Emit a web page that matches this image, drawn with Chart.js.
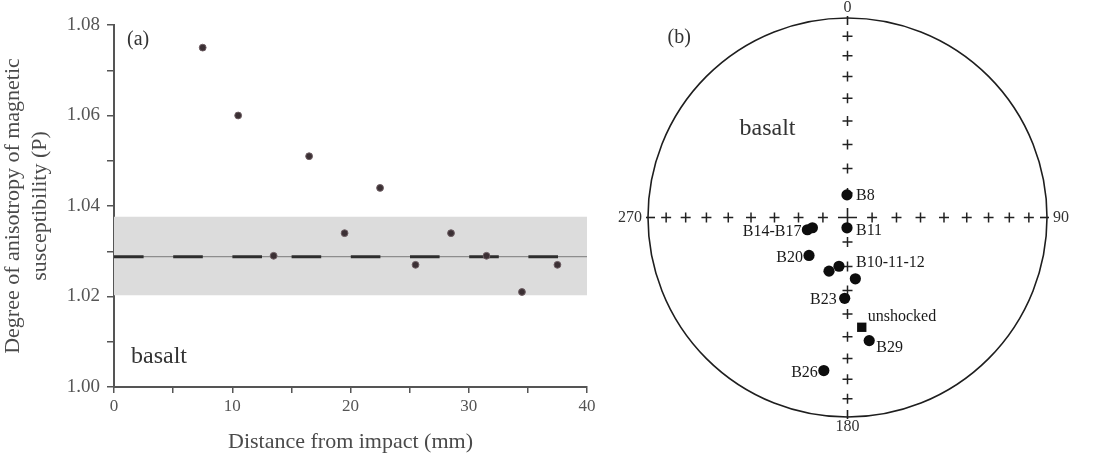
<!DOCTYPE html>
<html>
<head>
<meta charset="utf-8">
<script src="https://cdn.jsdelivr.net/npm/chart.js@4/dist/chart.umd.min.js"></script>
<style>
  html, body { margin: 0; padding: 0; background: #fff; }
  #wrap { position: relative; width: 1095px; height: 454px; overflow: hidden; }
  #left { position: absolute; left: 0; top: 0; }
  #right { position: absolute; left: 605px; top: 0; }
</style>
</head>
<body>
<div id="wrap">
  <canvas id="left" width="605" height="454"></canvas>
  <canvas id="right" width="490" height="454"></canvas>
</div>
<script>
// ---- (a) degree of anisotropy vs distance from impact ----
const distances = [7.5, 10.5, 13.5, 16.5, 19.5, 22.5, 25.5, 28.5, 31.5, 34.5, 37.5];
const pValues   = [1.075, 1.060, 1.029, 1.051, 1.034, 1.044, 1.027, 1.034, 1.029, 1.021, 1.027];
const unshockedMean = 1.0288;
const unshockedBand = [1.0203, 1.0376];   // low, high
const distRange = [0, 40];
const pRange = [1.00, 1.08];

// ---- (b) stereonet, lower hemisphere equal area (declination / inclination, deg) ----
const siteDec = [358.7, 253.0, 253.7, 182.8, 225.4, 199.0, 189.9, 172.7, 182.0, 170.0, 188.8];
const siteInc = [80.8, 72.9, 75.1, 85.8, 67.9, 66.8, 69.8, 64.7, 56.7, 37.4, 23.4];
const unshockedDec = [172.6];
const unshockedInc = [43.8];
const gridDecs = [0, 90, 180, 270];
const gridIncs = [10, 20, 30, 40, 50, 60, 70, 80];
const cardinalLabels = ['0', '90', '180', '270'];
// text + index of the point it sits next to (unshocked uses -1)
const siteLabels = ['B8', 'B14-B17', 'B11', 'B20', 'B10-11-12', 'B23', 'unshocked', 'B29', 'B26'];
const siteLabelAnchor = [0, 1, 3, 4, 6, 8, -1, 9, 10];

// label placement (pixels from anchor point)
const labelPlace = {
  'B8':        { align: 'left',  dx: 9,  dy: 1 },
  'B14-B17':   { align: 'right', dx: -6, dy: 2 },
  'B11':       { align: 'left',  dx: 9,  dy: 3 },
  'B20':       { align: 'right', dx: -6, dy: 2 },
  'B10-11-12': { align: 'left',  dx: 17, dy: -3 },
  'B23':       { align: 'right', dx: -8, dy: 2 },
  'unshocked': { align: 'left',  dx: 6,  dy: -10 },
  'B29':       { align: 'left',  dx: 7,  dy: 7 },
  'B26':       { align: 'right', dx: -6, dy: 2 },
};

const SERIF = '"Liberation Serif", "DejaVu Serif", serif';
const INK = '#4a4a4a';

function project(dec, inc) {
  const r = Math.SQRT2 * Math.sin((90 - inc) / 2 * Math.PI / 180);
  const d = dec * Math.PI / 180;
  return { x: r * Math.sin(d), y: r * Math.cos(d) };
}

// ---------- left chart ----------
const panelA = {
  id: 'panelA',
  afterDraw(chart) {
    const { ctx, chartArea } = chart;
    ctx.save();
    ctx.fillStyle = '#333';
    ctx.textBaseline = 'middle';
    ctx.font = '20px ' + SERIF;
    ctx.fillText('(a)', chartArea.left + 13, 40);
    ctx.font = '24px ' + SERIF;
    ctx.fillText('basalt', chartArea.left + 17, 357);
    ctx.restore();
  }
};

const bandLine = distRange.map(x => ({ x, y: unshockedBand[1] }));
const meanLine = distRange.map(x => ({ x, y: unshockedMean }));

new Chart(document.getElementById('left'), {
  type: 'scatter',
  data: {
    datasets: [
      {
        data: distances.map((x, i) => ({ x, y: pValues[i] })),
        backgroundColor: '#3b3034', borderColor: '#6e5e63', borderWidth: 1,
        pointRadius: 3.4, order: 0
      },
      {
        data: meanLine, showLine: true, pointRadius: 0,
        borderColor: '#2e2e2e', borderWidth: 3, borderDash: [29.6, 29.6], borderCapStyle: 'butt',
        order: 1
      },
      {
        data: meanLine, showLine: true, pointRadius: 0,
        borderColor: '#8d8d8d', borderWidth: 1.2, order: 2
      },
      {
        data: bandLine, showLine: true, pointRadius: 0, borderWidth: 0,
        fill: { value: unshockedBand[0] }, backgroundColor: '#dcdcdc', order: 3
      }
    ]
  },
  options: {
    responsive: false, animation: false,
    layout: { padding: { left: 0, right: 18, top: 25, bottom: 0 } },
    plugins: { legend: { display: false }, tooltip: { enabled: false } },
    scales: {
      x: {
        min: distRange[0], max: distRange[1],
        afterFit: s => { s.height = 67; },
        border: { color: '#555', width: 2 },
        grid: { drawOnChartArea: false, tickLength: 6, color: '#555', lineWidth: 1.5 },
        ticks: {
          stepSize: 5, padding: 3, color: '#555', maxRotation: 0, autoSkip: false,
          font: { family: SERIF, size: 17 },
          callback: v => (v % 10 === 0 ? v : '')
        },
        title: {
          display: true, text: 'Distance from impact (mm)', color: INK,
          font: { family: SERIF, size: 22, lineHeight: 1.1 }, padding: 0
        }
      },
      y: {
        min: pRange[0], max: pRange[1],
        afterFit: s => { s.width = 114; },
        border: { color: '#555', width: 2 },
        grid: { drawOnChartArea: false, tickLength: 7, color: '#555', lineWidth: 1.5 },
        ticks: {
          stepSize: 0.01, padding: 7, color: '#555', autoSkip: false,
          font: { family: SERIF, size: 19 },
          callback: v => (Math.round(v * 100) % 2 === 0 ? v.toFixed(2) : '')
        },
        title: {
          display: true, text: ['Degree of anisotropy of magnetic', 'susceptibility (P)'], color: INK,
          font: { family: SERIF, size: 22, lineHeight: 1.23 }, padding: 0
        }
      }
    }
  },
  plugins: [panelA]
});

// ---------- right chart (stereonet) ----------
const gridPts = [];
gridDecs.forEach(d => gridIncs.forEach(i => gridPts.push(project(d, i))));
const sitePts = siteDec.map((d, i) => project(d, siteInc[i]));
const unshockedPts = unshockedDec.map((d, i) => project(d, unshockedInc[i]));

const net = {
  id: 'net',
  beforeDatasetsDraw(chart) {
    const { ctx, scales: { x, y } } = chart;
    const cx = x.getPixelForValue(0), cy = y.getPixelForValue(0);
    const R = x.getPixelForValue(1) - cx;
    ctx.save();
    ctx.strokeStyle = '#1e1e1e';
    ctx.lineWidth = 1.6;
    ctx.beginPath();
    ctx.arc(cx, cy, R, 0, Math.PI * 2);
    ctx.stroke();
    // cardinal ticks + labels
    ctx.fillStyle = '#333';
    ctx.font = '16px ' + SERIF;
    ctx.textBaseline = 'middle';
    gridDecs.forEach((d, k) => {
      const a = d * Math.PI / 180;
      const sx = Math.sin(a), sy = -Math.cos(a);
      ctx.beginPath();
      ctx.moveTo(cx + sx * (R + 2), cy + sy * (R + 2));
      ctx.lineTo(cx + sx * (R - 7), cy + sy * (R - 7));
      ctx.stroke();
      let tx = cx + sx * (R + 6), ty = cy + sy * (R + 10);
      ctx.textAlign = sx > 0.5 ? 'left' : sx < -0.5 ? 'right' : 'center';
      if (Math.abs(sx) > 0.5) ty = cy;
      ctx.fillText(cardinalLabels[k], tx, ty);
    });
    ctx.textAlign = 'left';
    ctx.font = '20px ' + SERIF;
    ctx.fillText('(b)', cx - 180, 38);
    ctx.font = '24px ' + SERIF;
    ctx.fillText('basalt', cx - 108, 129);
    ctx.restore();
  },
  afterDatasetsDraw(chart) {
    const { ctx } = chart;
    const siteMeta = chart.getDatasetMeta(0).data;
    const unsMeta = chart.getDatasetMeta(1).data;
    ctx.save();
    ctx.fillStyle = '#1a1a1a';
    ctx.font = '16px ' + SERIF;
    ctx.textBaseline = 'middle';
    siteLabels.forEach((t, k) => {
      const idx = siteLabelAnchor[k];
      const p = idx < 0 ? unsMeta[0] : siteMeta[idx];
      const pl = labelPlace[t];
      ctx.textAlign = pl.align;
      ctx.fillText(t, p.x + pl.dx, p.y + pl.dy);
    });
    ctx.restore();
  }
};

new Chart(document.getElementById('right'), {
  type: 'scatter',
  data: {
    datasets: [
      { data: sitePts, pointStyle: 'circle', pointRadius: 5.6, backgroundColor: '#0d0d0d', borderColor: '#0d0d0d', borderWidth: 0, clip: false },
      { data: unshockedPts, pointStyle: 'rect', pointRadius: 6.6, backgroundColor: '#0d0d0d', borderWidth: 0, clip: false },
      { data: [{ x: 0, y: 0 }], pointStyle: 'cross', pointRadius: 9.5, borderColor: '#222', borderWidth: 1.6, clip: false },
      { data: gridPts, pointStyle: 'cross', pointRadius: 5, borderColor: '#222', borderWidth: 1.5, clip: false }
    ]
  },
  options: {
    responsive: false, animation: false,
    layout: { padding: { left: 43, right: 48, top: 18, bottom: 37 } },
    plugins: { legend: { display: false }, tooltip: { enabled: false } },
    scales: {
      x: { display: false, min: -1, max: 1 },
      y: { display: false, min: -1, max: 1 }
    }
  },
  plugins: [net]
});
</script>
</body>
</html>
